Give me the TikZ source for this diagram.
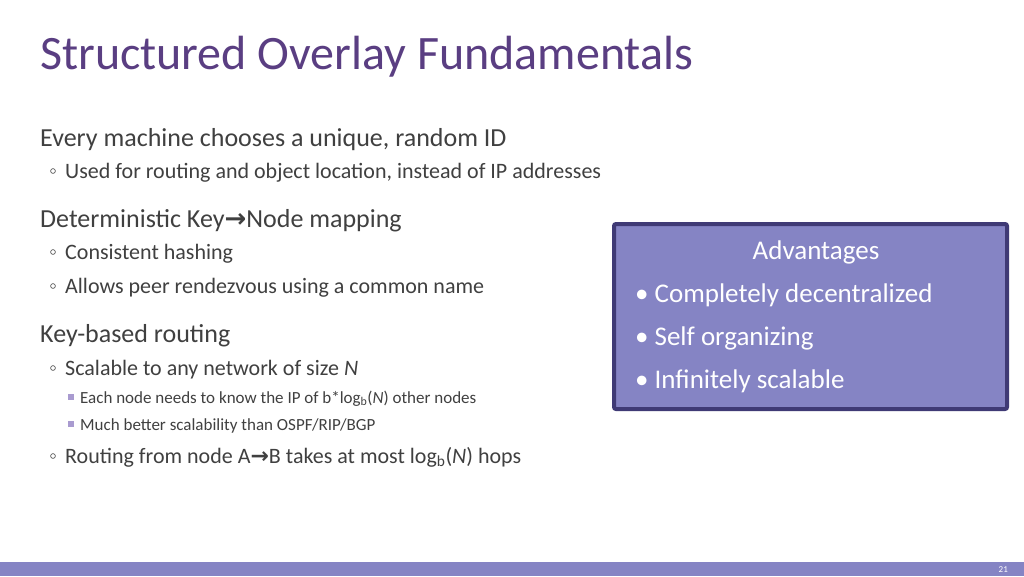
\documentclass[tikz,border=0pt]{standalone}
\usepackage{fontspec}
\setmainfont{Carlito}
\newfontfamily\symf{DejaVu Sans}
\definecolor{ttl}{HTML}{5A3E82}
\definecolor{txt}{HTML}{404040}
\definecolor{boxf}{HTML}{8584C4}
\definecolor{boxd}{HTML}{3F3A75}
\definecolor{bul}{HTML}{A99BD0}
\newcommand{\arr}{{\symf\bfseries →}}
\begin{document}
\begin{tikzpicture}[x=1pt,y=-1pt,
  l1/.style={anchor=base west,inner sep=0,text=txt,font=\fontsize{26}{30}\selectfont},
  l2/.style={anchor=base west,inner sep=0,text=txt,font=\fontsize{22}{26}\selectfont},
  l3/.style={anchor=base west,inner sep=0,text=txt,font=\fontsize{17}{20}\selectfont},
  bx/.style={anchor=base west,inner sep=0,text=white,font=\fontsize{27}{32}\selectfont},
  ring/.style={draw=txt,line width=0.6pt},
  sq/.style={fill=bul}]
\useasboundingbox (0,0) rectangle (1024,576);
\fill[white] (0,0) rectangle (1024,576);
\fill[boxf] (0,562) rectangle (1024,576);
\node[anchor=base east,text=white,font=\fontsize{9}{10}\selectfont,inner sep=0] (pg) at (1008,572) {21};
\node[anchor=base west,inner sep=0,text=ttl,font=\fontsize{48}{56}\selectfont] (title) at (40,69) {Structured Overlay Fundamentals};
\node[l1] (a) at (40,146) {Every machine chooses a unique, random ID};
\draw[ring] (53,171) circle (2.4);
\node[l2] (a1) at (65,178) {Used for routing and object location, instead of IP addresses};
\node[l1] (b) at (40,227) {Deterministic Key\arr Node mapping};
\draw[ring] (53,252) circle (2.4);
\node[l2] (b1) at (65,259) {Consistent hashing};
\draw[ring] (53,286) circle (2.4);
\node[l2] (b2) at (65,293) {Allows peer rendezvous using a common name};
\node[l1] (c) at (40,342) {Key-based routing};
\draw[ring] (53,368) circle (2.4);
\node[l2] (c1) at (65,375) {Scalable to any network of size \textit{N}};
\fill[sq] (68,394) rectangle (74,400);
\node[l3] (c2) at (80,403) {Each node needs to know the IP of b*log\textsubscript{b}(\textit{N}) other nodes};
\fill[sq] (68,421) rectangle (74,427);
\node[l3] (c3) at (80,430) {Much better scalability than OSPF/RIP/BGP};
\draw[ring] (53,456) circle (2.4);
\node[l2] (c4) at (65,463) {Routing from node A\arr B takes at most log\textsubscript{b}(\textit{N}) hops};
\draw[fill=boxf,draw=boxd,line width=4pt,rounded corners=2pt] (614,224) rectangle (1007,409);
\node[anchor=base,inner sep=0,text=white,font=\fontsize{27}{32}\selectfont] (adv) at (816,259) {Advantages};
\node[bx] (d1) at (635,302) {•\hspace{6pt}Completely decentralized};
\node[bx] (d2) at (635,345) {•\hspace{6pt}Self organizing};
\node[bx] (d3) at (635,388) {•\hspace{6pt}Infinitely scalable};
\end{tikzpicture}
\end{document}
